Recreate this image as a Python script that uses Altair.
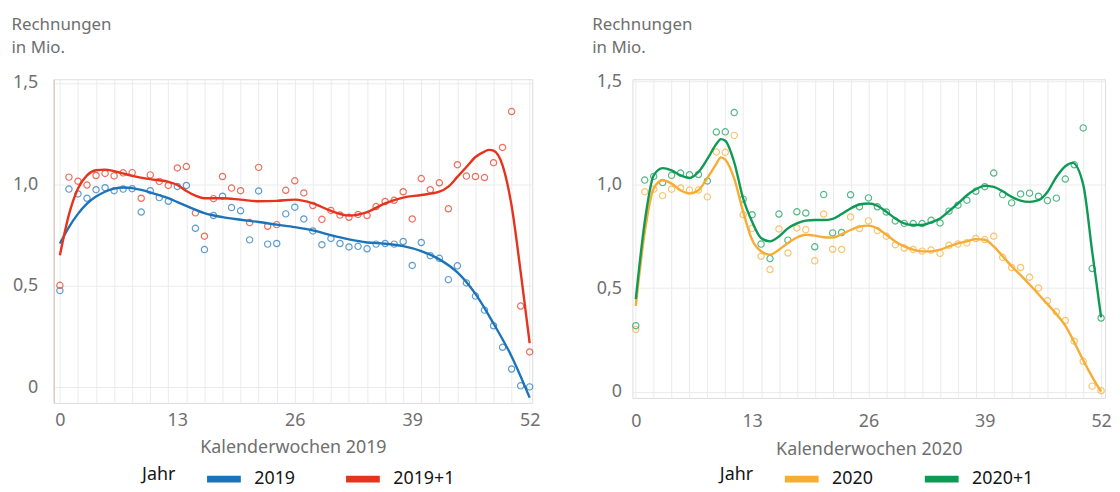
import altair as alt
import pandas as pd

FONT = "Noto Sans"
GRID = "#ebebeb"
GRAY = "#6f6f6f"
BLACK = "#151515"

weeks = list(range(53))

# ---------- 2019 panel ----------
pts_2019 = [0.477, 0.977, 0.953, 0.932, 0.974, 0.984, 0.969, 0.977, 0.979, 0.864,
            0.969, 0.935, 0.917, 0.990, 0.995, 0.784, 0.679, 0.847, 0.942, 0.886,
            0.870, 0.727, 0.968, 0.706, 0.709, 0.855, 0.888, 0.830, 0.771, 0.703,
            0.734, 0.709, 0.692, 0.695, 0.683, 0.706, 0.709, 0.706, 0.719, 0.601,
            0.714, 0.649, 0.636, 0.531, 0.599, 0.515, 0.450, 0.381, 0.304, 0.198,
            0.091, 0.008, 0.003]
pts_2019p1 = [0.503, 1.036, 1.016, 0.997, 1.044, 1.054, 1.042, 1.057, 1.058, 0.932,
              1.047, 1.015, 0.995, 1.081, 1.088, 0.860, 0.745, 0.930, 1.039, 0.982,
              0.969, 0.812, 1.084, 0.794, 0.802, 0.971, 1.018, 0.958, 0.896, 0.828,
              0.872, 0.849, 0.838, 0.852, 0.847, 0.891, 0.916, 0.922, 0.964, 0.830,
              1.029, 0.974, 1.008, 0.880, 1.097, 1.041, 1.039, 1.034, 1.107, 1.182,
              1.359, 0.401, 0.175]
fit_2019_weeks = [0, 1, 2, 3, 4, 5, 6, 7, 8, 9, 10, 11, 12, 13, 14, 16, 18, 20, 22, 24,
                  26, 28, 30, 32, 34, 36, 38, 40, 42, 44, 46, 48, 50, 52]
fit_2019 = [0.709, 0.790, 0.855, 0.905, 0.940, 0.964, 0.979, 0.985, 0.982, 0.973,
            0.961, 0.947, 0.932, 0.913, 0.894, 0.859, 0.839, 0.826, 0.815, 0.802,
            0.790, 0.774, 0.750, 0.729, 0.714, 0.708, 0.696, 0.672, 0.631, 0.567,
            0.461, 0.315, 0.153, -0.050]
fit_2019p1_weeks = [0, 1, 2, 3, 4, 5, 6, 7, 8, 10, 12, 13, 14, 15, 16, 18, 20, 22, 24,
                    26, 28, 30, 32, 34, 36, 38, 40, 42, 43, 44, 45, 46, 47, 47.5, 48,
                    49, 50, 51, 52]
fit_2019p1 = [0.651, 0.851, 0.980, 1.045, 1.070, 1.073, 1.065, 1.054, 1.042, 1.026,
              1.013, 0.997, 0.968, 0.945, 0.932, 0.932, 0.925, 0.917, 0.919, 0.925,
              0.907, 0.870, 0.847, 0.864, 0.907, 0.935, 0.948, 0.964, 0.989, 1.037,
              1.086, 1.135, 1.162, 1.170, 1.166, 1.094, 0.895, 0.570, 0.218]

# ---------- 2020 panel ----------
pts_2020 = [0.301, 0.966, 0.978, 0.947, 0.978, 0.984, 0.974, 0.974, 0.941, 1.158,
            1.156, 1.238, 0.855, 0.789, 0.654, 0.590, 0.786, 0.670, 0.791, 0.783,
            0.632, 0.858, 0.688, 0.687, 0.844, 0.788, 0.825, 0.778, 0.751, 0.710,
            0.694, 0.687, 0.679, 0.684, 0.668, 0.707, 0.713, 0.719, 0.740, 0.735,
            0.751, 0.649, 0.600, 0.600, 0.553, 0.501, 0.439, 0.386, 0.344, 0.244,
            0.147, 0.027, 0.005]
pts_2020p1 = [0.319, 1.022, 1.040, 1.010, 1.045, 1.056, 1.048, 1.049, 1.018, 1.254,
              1.255, 1.348, 0.930, 0.855, 0.713, 0.643, 0.858, 0.732, 0.869, 0.863,
              0.700, 0.952, 0.767, 0.769, 0.951, 0.893, 0.936, 0.893, 0.868, 0.825,
              0.813, 0.812, 0.812, 0.828, 0.815, 0.872, 0.901, 0.925, 0.968, 0.990,
              1.056, 0.952, 0.912, 0.955, 0.959, 0.944, 0.923, 0.935, 1.027, 1.096,
              1.274, 0.595, 0.356]
fit_2020_weeks = [0, 1, 2, 3, 4, 5, 6, 7, 8, 9, 9.5, 10, 11, 12, 13, 14, 15, 16, 17,
                  18, 19, 20, 21, 22, 23, 24, 25, 26, 27, 28, 29, 30, 31, 32, 33, 34,
                  35, 36, 37, 38, 39, 40, 41, 42, 43, 44, 45, 46, 47, 48, 49, 50, 51, 52]
fit_2020 = [0.415, 0.770, 0.981, 1.021, 1.005, 0.973, 0.957, 0.973, 1.032, 1.100,
            1.132, 1.121, 1.029, 0.869, 0.734, 0.678, 0.662, 0.686, 0.718, 0.745,
            0.758, 0.754, 0.746, 0.744, 0.760, 0.781, 0.797, 0.802, 0.789, 0.758,
            0.726, 0.702, 0.686, 0.678, 0.678, 0.686, 0.702, 0.716, 0.726, 0.737,
            0.734, 0.702, 0.654, 0.606, 0.563, 0.518, 0.471, 0.423, 0.375, 0.319,
            0.239, 0.152, 0.072, 0.000]
fit_2020p1_weeks = [0, 1, 2, 3, 4, 5, 6, 7, 8, 9, 9.5, 10, 11, 12, 13, 14, 15, 16, 17,
                    18, 19, 20, 21, 22, 23, 24, 25, 26, 27, 28, 29, 30, 31, 32, 33, 34,
                    35, 36, 37, 38, 39, 40, 41, 42, 43, 44, 45, 46, 47, 48, 48.8, 50,
                    51, 52]
fit_2020p1 = [0.447, 0.820, 1.045, 1.080, 1.069, 1.045, 1.032, 1.061, 1.124, 1.196,
              1.220, 1.212, 1.108, 0.933, 0.821, 0.742, 0.726, 0.750, 0.789, 0.813,
              0.826, 0.829, 0.829, 0.835, 0.858, 0.885, 0.904, 0.909, 0.898, 0.869,
              0.837, 0.813, 0.805, 0.805, 0.818, 0.837, 0.872, 0.909, 0.949, 0.978,
              0.994, 0.989, 0.968, 0.941, 0.923, 0.917, 0.925, 0.965, 1.037, 1.089,
              1.105, 1.000, 0.678, 0.359]

y_ticks = [0, 0.5, 1.0, 1.5]
colors_2019 = ["#1b73ba", "#e5331c"]
colors_2020 = ["#f7ad33", "#0e9a55"]

Y_LABEL_EXPR = "datum.value == 0 ? '0' : replace(format(datum.value, '.1f'), '.', ',')"
X_LABEL_EXPR = "datum.value % 13 == 0 ? datum.label : ''"


def panel(year, pa, pb, fa_w, fa, fb_w, fb, colors, x_dom, y_dom, w, h,
          y_lab_pad, x_lab_pad, x_title_pad, title_x, show_domain, legend_x, legend_y,
          col_pad):
    names = [str(year), f"{year}+1"]
    pts = pd.DataFrame({
        "week": weeks + weeks,
        "value": pa + pb,
        "serie": [names[0]] * len(pa) + [names[1]] * len(pb),
    })
    fit = pd.DataFrame({
        "week": fa_w + fb_w,
        "value": fa + fb,
        "serie": [names[0]] * len(fa_w) + [names[1]] * len(fb_w),
    })
    legend = alt.Legend(
        orient="none", legendX=legend_x, legendY=legend_y, direction="horizontal",
        title="Jahr", titleOrient="left", titleFontSize=18, titleFontWeight="normal",
        titleColor=BLACK, titleFont=FONT, titlePadding=28, titleBaseline="middle",
        titleAnchor="middle",
        labelFontSize=18, labelColor=BLACK, labelFont=FONT, labelOffset=10,
        symbolType="stroke", symbolSize=1156, symbolStrokeWidth=7, symbolOpacity=1,
        columnPadding=col_pad, padding=0,
    )
    color = alt.Color("serie:N", scale=alt.Scale(domain=names, range=colors), legend=legend)
    x = alt.X(
        "week:Q",
        scale=alt.Scale(domain=x_dom, nice=False, zero=False),
        axis=alt.Axis(
            values=weeks, labelExpr=X_LABEL_EXPR,
            gridOpacity={"condition": {"test": "datum.value % 2 == 0", "value": 1}, "value": 0},
            gridColor=GRID, ticks=False, domain=False, labelOverlap=False, labelFlush=False,
            labelPadding=x_lab_pad, labelFontSize=18, labelColor=GRAY, labelFont=FONT,
            title=f"Kalenderwochen {year}", titleFontSize=18, titleFontWeight="normal",
            titleColor=GRAY, titleFont=FONT, titlePadding=x_title_pad,
        ),
    )
    y = alt.Y(
        "value:Q",
        scale=alt.Scale(domain=y_dom, nice=False, zero=False),
        axis=alt.Axis(
            values=y_ticks, labelExpr=Y_LABEL_EXPR, grid=True, gridColor=GRID,
            ticks=False, domain=show_domain, domainColor="#d8bdb2", domainWidth=1,
            labelPadding=y_lab_pad, labelFontSize=18, labelColor=GRAY, labelFont=FONT,
            title=["Rechnungen", "in Mio."], titleAngle=0, titleAlign="left",
            titleBaseline="alphabetic", titleX=title_x, titleY=-50, titleFontSize=17,
            titleFontWeight="normal", titleColor=GRAY, titleFont=FONT, titleLineHeight=23,
        ),
    )
    points = alt.Chart(pts).mark_point(filled=False, size=40, strokeWidth=1.2).encode(
        x=x, y=y, color=color
    )
    lines = alt.Chart(fit).mark_line(strokeWidth=2.4, interpolate="monotone").encode(
        x=x, y=y, color=color
    )
    return alt.layer(points, lines).properties(width=w, height=h)


left = panel(2019, pts_2019, pts_2019p1, fit_2019_weeks, fit_2019, fit_2019p1_weeks,
             fit_2019p1, colors_2019, [-0.69, 52.28], [-0.076, 1.518], 482, 326,
             16, 9, 9, -43, True, 89, 382, 36)
right = panel(2020, pts_2020, pts_2020p1, fit_2020_weeks, fit_2020, fit_2020p1_weeks,
              fit_2020p1, colors_2020, [-0.37, 52.44], [-0.03, 1.509], 476, 321,
              11, 15, 10, -41, False, 88, 382, 37)

chart = (
    alt.hconcat(left, right, spacing=50)
    .resolve_scale(color="independent", x="independent", y="independent")
    .properties(padding={"left": 2, "top": 5, "right": 0, "bottom": 0})
    .configure_view(stroke=None)
    .configure(font=FONT)
)

chart.save("out.html", embed_options={"renderer": "svg", "actions": False})
